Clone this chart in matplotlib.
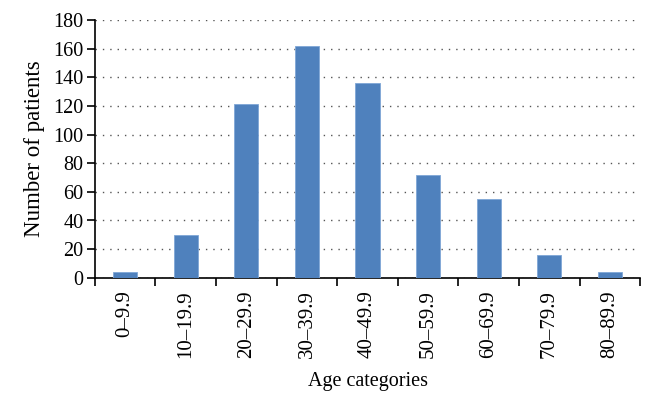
import matplotlib.pyplot as plt
import numpy as np

categories = ['0–9.9', '10–19.9', '20–29.9', '30–39.9', '40–49.9',
              '50–59.9', '60–69.9', '70–79.9', '80–89.9']
patients = [4, 30, 121, 162, 136, 72, 55, 16, 4]
yticks = [0, 20, 40, 60, 80, 100, 120, 140, 160, 180]

plt.rcParams['font.family'] = ['Liberation Serif', 'DejaVu Serif']

fig = plt.figure(figsize=(6.54, 4.05), dpi=100)
ax = fig.add_axes([0.145, 0.314, 0.834, 0.637])

x = np.arange(len(categories))
ax.bar(x, patients, width=0.4, color='#4F81BD', edgecolor='#7FA6D6', linewidth=0.6, zorder=3)

ax.set_xlim(-0.5, len(categories) - 0.5)
ax.set_ylim(0, 180)
ax.set_yticks(yticks)
ax.yaxis.grid(True, linestyle=(0, (1, 4.3)), color='#555555', linewidth=1.0, zorder=0)
ax.set_axisbelow(True)

ax.set_xticks(x)
ax.set_xticklabels(categories, rotation=90, fontsize=15)
ax.set_xticks(np.arange(-0.5, len(categories)), minor=True)
ax.tick_params(axis='x', which='major', length=0, pad=9)
ax.tick_params(axis='x', which='minor', length=6, width=1.2, direction='out')
ax.tick_params(axis='y', length=6, width=1.2, direction='out', labelsize=14.5, pad=2)

for s in ['top', 'right']:
    ax.spines[s].set_visible(False)
for s in ['left', 'bottom']:
    ax.spines[s].set_linewidth(1.2)

ax.set_ylabel('Number of patients', fontsize=16.5, labelpad=6)
ax.set_xlabel('Age categories', fontsize=14.5, labelpad=10)

fig.savefig('out.png', dpi=100)
